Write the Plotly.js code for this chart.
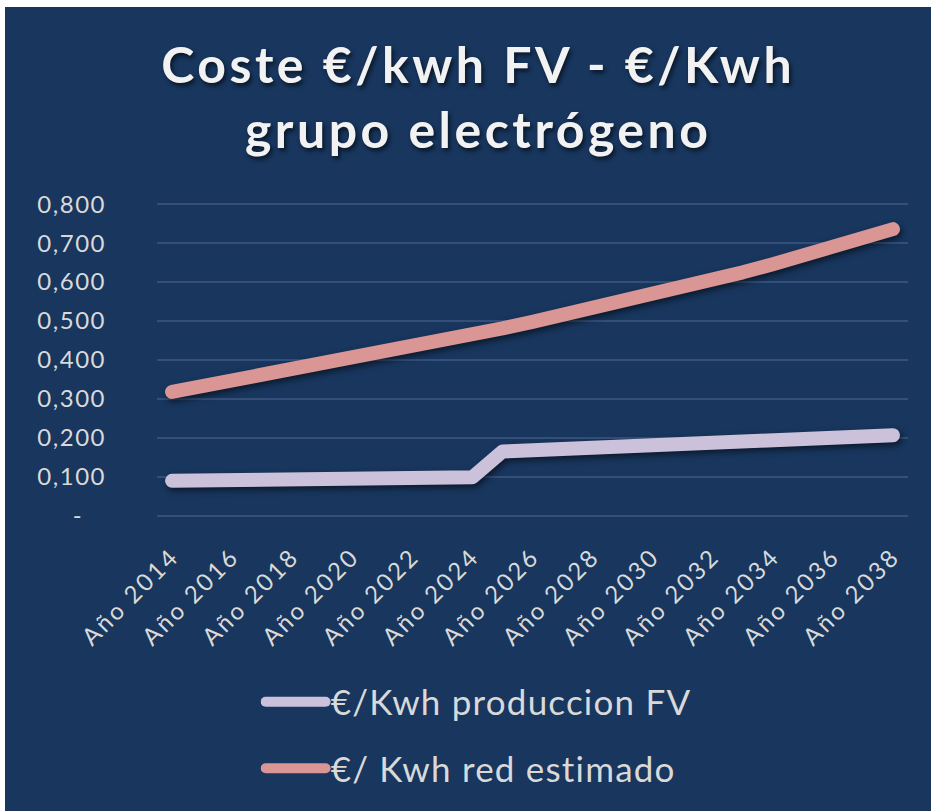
<!DOCTYPE html>
<html>
<head>
<meta charset="utf-8">
<script src="https://cdn.plot.ly/plotly-3.0.1.min.js"></script>
<style>
  html, body { margin: 0; padding: 0; background: #ffffff; }
  #chart { position: absolute; left: 5px; top: 7px; width: 926px; height: 804px; }
  .scatterlayer .js-line { stroke-linecap: round; stroke-linejoin: round; filter: drop-shadow(2px 3px 3px rgba(0,0,0,0.55)); }
  .legend .js-line { stroke-linecap: round; }
  .gtitle { letter-spacing: 3.5px; }
  .xtick text { letter-spacing: 2.5px; }
  .ytick text { letter-spacing: 1.5px; }
  .legendtext { letter-spacing: 1.2px; }
</style>
</head>
<body>
<div id="chart"></div>
<script>
const categories = ["Año 2014","Año 2015","Año 2016","Año 2017","Año 2018","Año 2019","Año 2020","Año 2021","Año 2022","Año 2023","Año 2024","Año 2025","Año 2026","Año 2027","Año 2028","Año 2029","Año 2030","Año 2031","Año 2032","Año 2033","Año 2034","Año 2035","Año 2036","Año 2037","Año 2038"];
const produccionFV = [0.090,0.091,0.092,0.093,0.094,0.095,0.096,0.096,0.097,0.098,0.099,0.165,0.168,0.171,0.175,0.178,0.181,0.184,0.188,0.191,0.194,0.197,0.201,0.204,0.207];
const redEstimado = [0.318,0.332,0.346,0.360,0.374,0.389,0.403,0.418,0.433,0.449,0.465,0.481,0.498,0.515,0.532,0.549,0.567,0.586,0.605,0.625,0.646,0.667,0.689,0.712,0.736];
const seriesNames = ["€/Kwh produccion FV","€/ Kwh red estimado"];
const yTickVals = [0,0.1,0.2,0.3,0.4,0.5,0.6,0.7,0.8];
const yTickText = ["-\u00a0\u00a0\u00a0","0,100","0,200","0,300","0,400","0,500","0,600","0,700","0,800"];
const xTickVals = categories.filter((c, i) => i % 2 === 0);

const FONT = "Lato, 'Open Sans', sans-serif";
const TXT = "#D9D9D9";
const BG = "#18365E";

const traces = [
  { x: categories, y: produccionFV, name: seriesNames[0], type: "scatter", mode: "lines",
    line: { color: "#CCC1DA", width: 14 }, legendgroup: "a", hoverinfo: "x+y" },
  { x: categories, y: redEstimado, name: seriesNames[1], type: "scatter", mode: "lines",
    line: { color: "#D99694", width: 14 }, legendgroup: "b", hoverinfo: "x+y" }
];

const layout = {
  width: 926, height: 804,
  paper_bgcolor: BG, plot_bgcolor: BG,
  margin: { l: 152, r: 23, t: 196, b: 294 },
  title: {
    text: "Coste €/kwh FV - €/Kwh<br>grupo electrógeno",
    font: { family: FONT, size: 50, color: "#F2F2F2", weight: 700, shadow: "2px 3px 4px rgba(0,0,0,0.6)" },
    x: 0.511, xanchor: "center", xref: "container",
    y: 0.905, yanchor: "top", yref: "container"
  },
  xaxis: {
    type: "category", range: [-0.5, 24.5],
    tickvals: xTickVals, tickangle: -45,
    tickfont: { family: FONT, size: 24, color: TXT },
    showgrid: false, zeroline: false, showline: false,
    ticks: "", ticklabelstandoff: 20, fixedrange: true, automargin: false
  },
  yaxis: {
    range: [-0.003, 0.803], tickvals: yTickVals, ticktext: yTickText,
    tickfont: { family: FONT, size: 24, color: TXT },
    showgrid: true, gridcolor: "#34507A", gridwidth: 1.5,
    zeroline: false, showline: false, ticks: "", ticklabelstandoff: 50, fixedrange: true, automargin: false
  },
  showlegend: true,
  legend: {
    orientation: "v", traceorder: "grouped", tracegroupgap: 18,
    x: 0.138, xanchor: "left", y: -0.495, yanchor: "top",
    font: { family: FONT, size: 35, color: TXT },
    itemwidth: 60, bgcolor: "rgba(0,0,0,0)"
  }
};

Plotly.newPlot("chart", traces, layout, { displayModeBar: false, staticPlot: true });
</script>
</body>
</html>
